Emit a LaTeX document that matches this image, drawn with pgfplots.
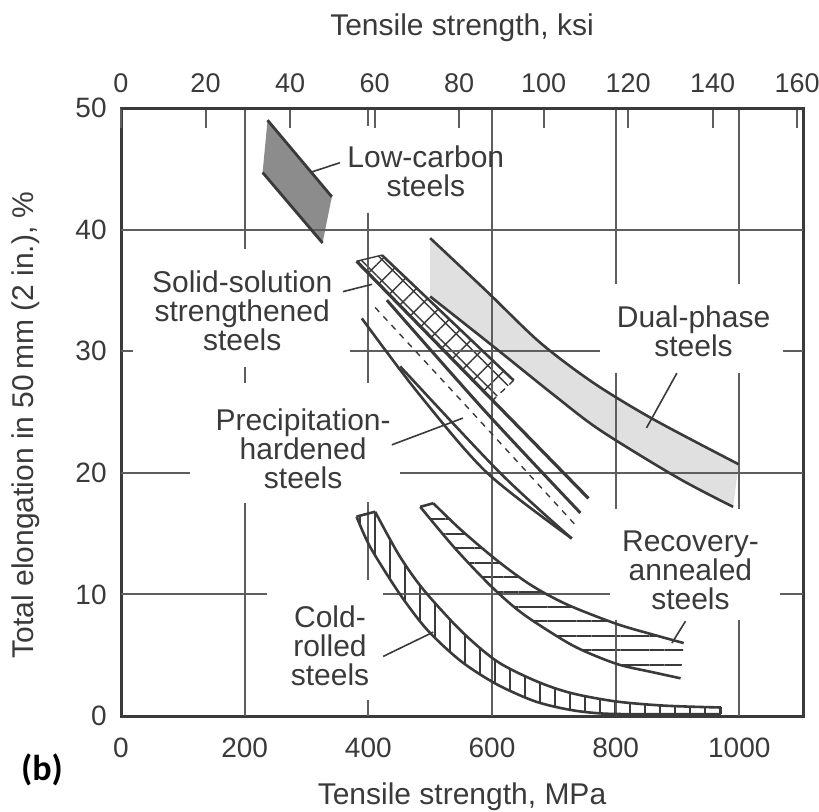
\documentclass[border=0pt]{standalone}
\usepackage{fontspec}
\setmainfont{Liberation Sans}
\newfontfamily\calib{Carlito}
\usepackage{pgfplots}
\usepackage{pgfplotstable}
\pgfplotsset{compat=1.18}
\usepgfplotslibrary{fillbetween}
\usetikzlibrary{patterns.meta}
\definecolor{ink}{HTML}{3A3A3A}
\definecolor{gridc}{HTML}{5E5E5E}
\definecolor{darkfill}{HTML}{8C8C8C}
\definecolor{lightfill}{HTML}{E0E0E0}
\tikzset{
  gl/.style={line width=1pt, color=gridc},
  crv/.style={line width=1.3pt, color=ink, smooth, tension=0.5},
  lead/.style={line width=0.8pt, color=ink},
  lab/.style={font=\fontsize{15}{14.5}\selectfont, text=ink, align=center},
}

% Dual-phase steels
\pgfplotstableread{
x y
500 39.3
592 34.9
678 30.7
764 27.4
861 24.4
999 20.7
}\dpU
\pgfplotstableread{
x y
500 34.5
602 30.4
700 26.4
775 23.5
900 19.6
990 17.2
}\dpL
% Cold-rolled steels
\pgfplotstableread{
x y
411 16.8
450 13.2
489 10.4
550 7.0
608 4.5
670 2.9
727 1.9
800 1.2
880 0.85
970 0.7
}\crU
\pgfplotstableread{
x y
381 16.4
403 13.9
450 10.1
495 7.1
550 4.5
608 2.6
670 1.2
727 0.5
780 0.2
850 0.15
970 0.15
}\crL
% Recovery-annealed steels
\pgfplotstableread{
x y
505 17.5
550 15.3
608 12.8
662 10.8
720 9.2
800 7.6
860 6.7
910 6.0
}\raU
\pgfplotstableread{
x y
484 17.2
540 13.8
600 10.6
650 8.4
720 6.1
760 5.1
807 4.2
860 3.6
905 3.1
}\raL
% Solid-solution strengthened steels (strip outline)
\pgfplotstableread{
x y
422 37.9
635 27.6
602 26.0
381 37.4
422 37.9
}\ssBox
% Low-carbon steels (outline)
\pgfplotstableread{
x y
237 49.0
341 42.7
326 38.9
229 44.7
237 49.0
}\lcBox

\begin{document}
\begin{tikzpicture}
\begin{axis}[
  at={(0pt,0pt)}, anchor=south west, scale only axis,
  width=341pt, height=304pt,
  xmin=0, xmax=1103, ymin=0, ymax=50,
  axis line style={line width=1.5pt, color=ink},
  xtick={0,200,...,1000}, ytick={0,10,...,50},
  major tick length=0pt, tick style={draw=none},
  xticklabel style={anchor=center, inner sep=0pt, yshift=-16pt},
  yticklabel style={anchor=east, inner sep=0pt, xshift=-7pt},
  ticklabel style={font=\fontsize{14}{14}\selectfont, text=ink},
  /pgf/number format/assume math mode=true,
  /pgf/number format/1000 sep={},
  xlabel={Tensile strength, MPa},
  ylabel={Total elongation in 50\,mm (2 in.), \%},
  label style={font=\fontsize{15}{15}\selectfont, text=ink},
  xlabel style={at={(axis description cs:0.5,0)}, anchor=center, yshift=-40.5pt},
  ylabel style={at={(axis description cs:0,0.479)}, anchor=center, yshift=47.5pt},
  clip=false,
]
% invisible named paths for fills
\addplot[draw=none, name path=dpUp, smooth, tension=0.5] table {\dpU};
\addplot[draw=none, name path=dpLo, smooth, tension=0.5] table {\dpL};
\addplot[draw=none, name path=crUp, smooth, tension=0.5] table {\crU};
\addplot[draw=none, name path=crLo, smooth, tension=0.5] table {\crL};
\addplot[draw=none, name path=raUp, smooth, tension=0.5] table {\raU};
\addplot[draw=none, name path=raLo, smooth, tension=0.5] table {\raL};
% fills
\addplot[lightfill] fill between[of=dpUp and dpLo];
\addplot[pattern={Lines[angle=90,distance=7.5pt,line width=1pt]}, pattern color=ink] fill between[of=crUp and crLo];
\addplot[pattern={Lines[angle=0,distance=7.3pt,line width=1pt]}, pattern color=ink] fill between[of=raUp and raLo];
\addplot[draw=none, fill=darkfill] table {\lcBox};
\addplot[draw=none, pattern={Hatch[angle=45,distance=7.5pt,line width=0.7pt]}, pattern color=ink] table {\ssBox};

% partial grid lines
\addplot[gl] coordinates {(0,40) (1103,40)};
\addplot[gl] coordinates {(0,30) (19,30)};
\addplot[gl] coordinates {(370,30) (775,30)};
\addplot[gl] coordinates {(1071,30) (1103,30)};
\addplot[gl] coordinates {(0,20) (112,20)};
\addplot[gl] coordinates {(451,20) (1103,20)};
\addplot[gl] coordinates {(0,10) (236,10)};
\addplot[gl] coordinates {(424,10) (791,10)};
\addplot[gl] coordinates {(1066,10) (1103,10)};
\addplot[gl] coordinates {(200,50) (200,38.4)};
\addplot[gl] coordinates {(200,28.7) (200,27.4)};
\addplot[gl] coordinates {(200,17.5) (200,0)};
\addplot[gl] coordinates {(400,50) (400,48.5)};
\addplot[gl] coordinates {(400,41.4) (400,27.4)};
\addplot[gl] coordinates {(400,17.6) (400,11.2)};
\addplot[gl] coordinates {(400,1.3) (400,0)};
\addplot[gl] coordinates {(600,50) (600,0)};
\addplot[gl] coordinates {(800,50) (800,35.5)};
\addplot[gl] coordinates {(800,28.2) (800,17.0)};
\addplot[gl] coordinates {(800,7.9) (800,0)};
\addplot[gl] coordinates {(1000,50) (1000,35.5)};
\addplot[gl] coordinates {(1000,28.2) (1000,17.0)};
\addplot[gl] coordinates {(1000,7.9) (1000,0)};

% Low-carbon steels
\addplot[line width=1.4pt, color=ink] coordinates {(237,49.0) (341,42.7)};
\addplot[line width=1.4pt, color=ink] coordinates {(229,44.7) (326,38.9)};
% Dual-phase steels
\addplot[crv] table {\dpU};
\addplot[crv] table {\dpL};
% Solid-solution strip
\addplot[line width=1.3pt, color=ink] coordinates {(422,37.9) (635,27.6)};
\addplot[line width=0.7pt, color=ink, dashed] coordinates {(635,27.6) (602,26.0)};
\addplot[line width=0.7pt, color=ink] coordinates {(422,37.9) (381,37.4)};
% Precipitation-hardened steels
\addplot[line width=1.6pt, color=ink] coordinates {(381,37.4) (756,17.9)};
\addplot[line width=1.5pt, color=ink, smooth] coordinates {(430,34.2) (590,25.0) (743,16.7)};
\addplot[line width=0.7pt, color=ink, dashed, smooth] coordinates {(411,33.6) (580,24.3) (735,15.7)};
\addplot[crv] coordinates {(389.5,32.7) (480,26.6) (592,20.0) (729,14.6)};
\addplot[crv] coordinates {(451.5,28.75) (613,20.0) (729,14.6)};
% Cold-rolled steels
\addplot[crv] table {\crU};
\addplot[crv] table {\crL};
\addplot[line width=1.3pt, color=ink] coordinates {(381,16.4) (411,16.8)};
\addplot[line width=1.3pt, color=ink] coordinates {(970,0.7) (970,0.15)};
% Recovery-annealed steels
\addplot[crv] table {\raU};
\addplot[crv] table {\raL};
\addplot[line width=1.3pt, color=ink] coordinates {(484,17.2) (505,17.5)};

% leader lines
\addplot[lead] coordinates {(354,45.5) (306,44.7)};
\addplot[lead] coordinates {(359,34.9) (406,35.5)};
\addplot[lead] coordinates {(438,22.3) (553,24.5)};
\addplot[lead] coordinates {(424,4.9) (505,6.9)};
\addplot[lead] coordinates {(913,7.8) (891,6.0)};
\addplot[lead] coordinates {(899,28.2) (850,23.7)};

% labels
\node[lab] at (axis cs:493,44.8) {Low-carbon\\steels};
\node[lab] at (axis cs:196,33.3) {Solid-solution\\strengthened\\steels};
\node[lab] at (axis cs:294.5,22.0) {Precipitation-\\hardened\\steels};
\node[lab] at (axis cs:338,5.8) {Cold-\\rolled\\steels};
\node[lab] at (axis cs:921,12.0) {Recovery-\\annealed\\steels};
\node[lab] at (axis cs:926,31.6) {Dual-phase\\steels};
\end{axis}

\begin{axis}[
  at={(0pt,0pt)}, anchor=south west, scale only axis,
  width=341pt, height=304pt,
  xmin=0, xmax=161.4, ymin=0, ymax=50,
  axis x line*=top, hide y axis,
  axis line style={line width=1.5pt, color=ink},
  xtick={0,20,...,160},
  tick align=inside, major tick length=10pt,
  xtick style={line width=1pt, color=gridc},
  xticklabel style={anchor=center, inner sep=0pt, yshift=12.5pt,
    font=\fontsize{13.5}{13.5}\selectfont, text=ink},
  /pgf/number format/assume math mode=true,
  xlabel={Tensile strength, ksi},
  xlabel style={at={(axis description cs:0.5,1)}, anchor=center, yshift=40pt,
    font=\fontsize{15}{15}\selectfont, text=ink},
]
\addplot[draw=none] coordinates {(0,0) (160,50)};
\end{axis}
\node[font=\calib\bfseries\fontsize{18}{18}\selectfont, text=black] at (-39.5pt,-27pt) {(b)};
\pgfresetboundingbox
\path[use as bounding box] (-60.5pt,-47.5pt) rectangle (349pt,358pt);
\end{tikzpicture}
\end{document}
